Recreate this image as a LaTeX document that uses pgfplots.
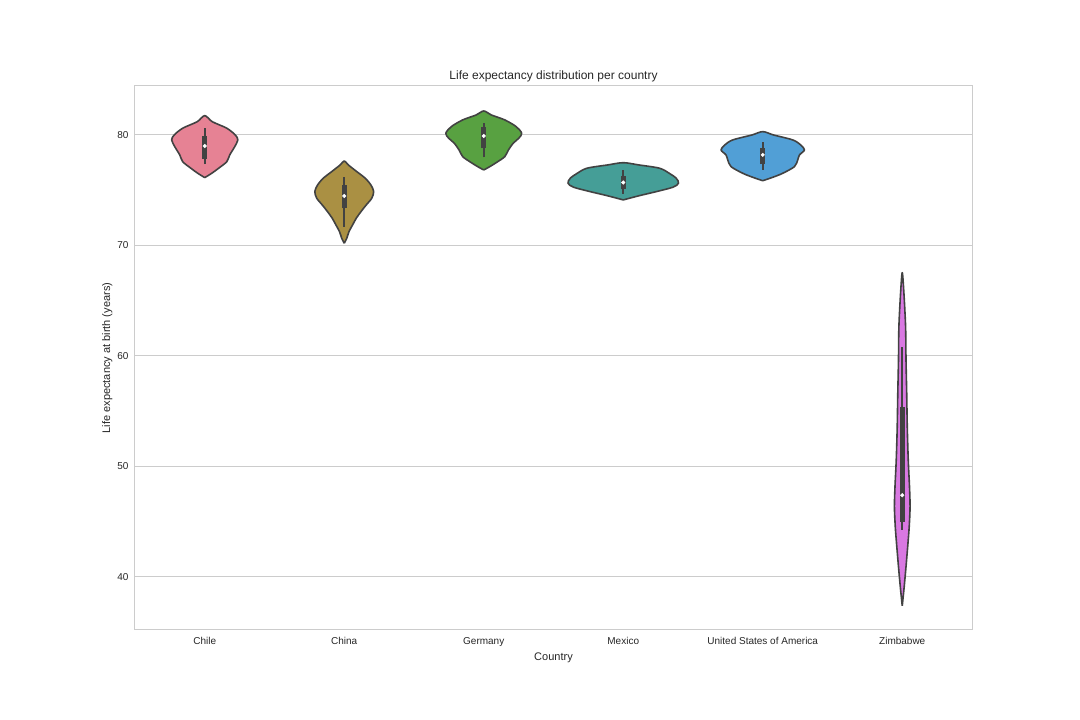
\documentclass[border=0pt]{standalone}
\usepackage{pgfplots}
\pgfplotsset{compat=1.18}
\usepackage{fontspec}
\setmainfont{Liberation Sans}
\definecolor{cChile}{HTML}{E68294}
\definecolor{cChina}{HTML}{AA9043}
\definecolor{cGermany}{HTML}{58A141}
\definecolor{cMexico}{HTML}{459E97}
\definecolor{cUSA}{HTML}{519FD6}
\definecolor{cZim}{HTML}{D978E2}
\definecolor{vline}{HTML}{424242}
\definecolor{gridc}{HTML}{CCCCCC}
\definecolor{txt}{HTML}{262626}
\pgfplotsset{
  violin/.style={draw=vline, line width=1.6pt, smooth, tension=0.5, line join=round},
  whisk/.style={draw=vline, line width=1.8pt, line cap=butt, forget plot},
  ibox/.style={draw=vline, line width=5pt, line cap=butt, forget plot},
  med/.style={only marks, mark=*, mark size=1.8pt, mark options={fill=white, draw=white}, forget plot},
}
\begin{document}
\begin{tikzpicture}
\path[use as bounding box] (0,0) rectangle (1080pt,720pt);
\begin{axis}[
  at={(135pt,90pt)}, anchor=south west, scale only axis,
  width=837pt, height=544pt,
  xmin=-0.5, xmax=5.5, ymin=35.2, ymax=84.43,
  xtick={0,1,2,3,4,5},
  xticklabels={Chile,China,Germany,Mexico,United States of America,Zimbabwe},
  ytick={40,50,60,70,80},
  ymajorgrids, grid style={gridc, line width=1pt},
  axis line style={gridc, line width=1pt},
  major tick length=0pt,
  /pgf/number format/assume math mode=true,
  tick label style={font=\fontsize{10}{12}\selectfont, text=txt},
  xticklabel style={yshift=-3.5pt},
  yticklabel style={xshift=-3pt},
  xlabel={Country}, ylabel={Life expectancy at birth (years)},
  label style={font=\fontsize{11}{13}\selectfont, text=txt},
  ylabel style={yshift=-2pt},
  title={Life expectancy distribution per country},
  title style={font=\fontsize{12}{14}\selectfont, text=txt, yshift=-6pt},
  clip=false,
]
% Chile
\addplot[violin, fill=cChile] coordinates {
 (0,76.14) (0.050,76.53) (0.100,76.99) (0.158,77.58) (0.179,78.19) (0.215,78.94) (0.237,79.55) (0.219,80.0) (0.158,80.61) (0.054,81.20) (0,81.75)
 (-0.054,81.20) (-0.158,80.61) (-0.219,80.0) (-0.237,79.55) (-0.215,78.94) (-0.179,78.19) (-0.158,77.58) (-0.100,76.99) (-0.050,76.53) (0,76.14)};
% China
\addplot[violin, fill=cChina] coordinates {
 (1,70.20) (1.018,70.65) (1.034,71.25) (1.060,71.86) (1.086,72.46) (1.120,73.06) (1.158,73.67) (1.197,74.27) (1.211,74.87) (1.191,75.48) (1.151,76.08) (1.090,76.68) (1.029,77.29) (1,77.65)
 (0.971,77.29) (0.910,76.68) (0.849,76.08) (0.809,75.48) (0.789,74.87) (0.803,74.27) (0.842,73.67) (0.880,73.06) (0.914,72.46) (0.940,71.86) (0.966,71.25) (0.982,70.65) (1,70.20)};
% Germany
\addplot[violin, fill=cGermany] coordinates {
 (2,76.83) (2.043,77.13) (2.100,77.58) (2.151,78.04) (2.177,78.64) (2.211,79.25) (2.251,79.70) (2.272,80.15) (2.233,80.75) (2.151,81.36) (2.054,81.81) (2,82.17)
 (1.946,81.81) (1.849,81.36) (1.767,80.75) (1.728,80.15) (1.749,79.70) (1.789,79.25) (1.823,78.64) (1.849,78.04) (1.900,77.58) (1.957,77.13) (2,76.83)};
% Mexico
\addplot[violin, fill=cMexico] coordinates {
 (3,74.12) (3.117,74.51) (3.237,74.87) (3.356,75.27) (3.396,75.63) (3.380,76.08) (3.330,76.53) (3.260,76.99) (3.110,77.29) (3,77.49)
 (2.890,77.29) (2.740,76.99) (2.670,76.53) (2.620,76.08) (2.604,75.63) (2.644,75.27) (2.763,74.87) (2.883,74.51) (3,74.12)};
% USA
\addplot[violin, fill=cUSA] coordinates {
 (4,75.86) (4.072,76.17) (4.143,76.53) (4.227,77.13) (4.251,77.74) (4.263,78.19) (4.299,78.64) (4.272,79.10) (4.215,79.55) (4.077,80.0) (4,80.30)
 (3.923,80.0) (3.785,79.55) (3.728,79.10) (3.701,78.64) (3.737,78.19) (3.749,77.74) (3.773,77.13) (3.857,76.53) (3.928,76.17) (4,75.86)};
% Zimbabwe
\addplot[violin, fill=cZim] coordinates {
 (5,37.38) (5.014,39.12) (5.027,40.93) (5.039,42.74) (5.050,44.55) (5.056,46.36) (5.052,48.17) (5.043,50.59) (5.036,53.60) (5.032,56.62) (5.027,59.64) (5.024,62.65) (5.012,65.67) (5,67.54)
 (4.988,65.67) (4.976,62.65) (4.973,59.64) (4.968,56.62) (4.964,53.60) (4.957,50.59) (4.948,48.17) (4.944,46.36) (4.950,44.55) (4.961,42.74) (4.973,40.93) (4.986,39.12) (5,37.38)};
% inner boxes
\addplot[whisk] coordinates {(0,77.35) (0,80.6)};
\addplot[ibox] coordinates {(0,77.83) (0,79.94)};
\addplot[med] coordinates {(0,79.0)};
\addplot[whisk] coordinates {(1,71.70) (1,76.23)};
\addplot[ibox] coordinates {(1,73.37) (1,75.48)};
\addplot[med] coordinates {(1,74.48)};
\addplot[whisk] coordinates {(2,77.98) (2,81.06)};
\addplot[ibox] coordinates {(2,78.80) (2,80.70)};
\addplot[med] coordinates {(2,79.91)};
\addplot[whisk] coordinates {(3,74.66) (3,76.83)};
\addplot[ibox] coordinates {(3,75.09) (3,76.29)};
\addplot[med] coordinates {(3,75.70)};
\addplot[whisk] coordinates {(4,76.83) (4,79.39)};
\addplot[ibox] coordinates {(4,77.35) (4,78.8)};
\addplot[med] coordinates {(4,78.2)};
\addplot[whisk] coordinates {(5,44.25) (5,60.84)};
\addplot[ibox] coordinates {(5,45.0) (5,55.41)};
\addplot[med] coordinates {(5,47.4)};
\end{axis}
\end{tikzpicture}
\end{document}
